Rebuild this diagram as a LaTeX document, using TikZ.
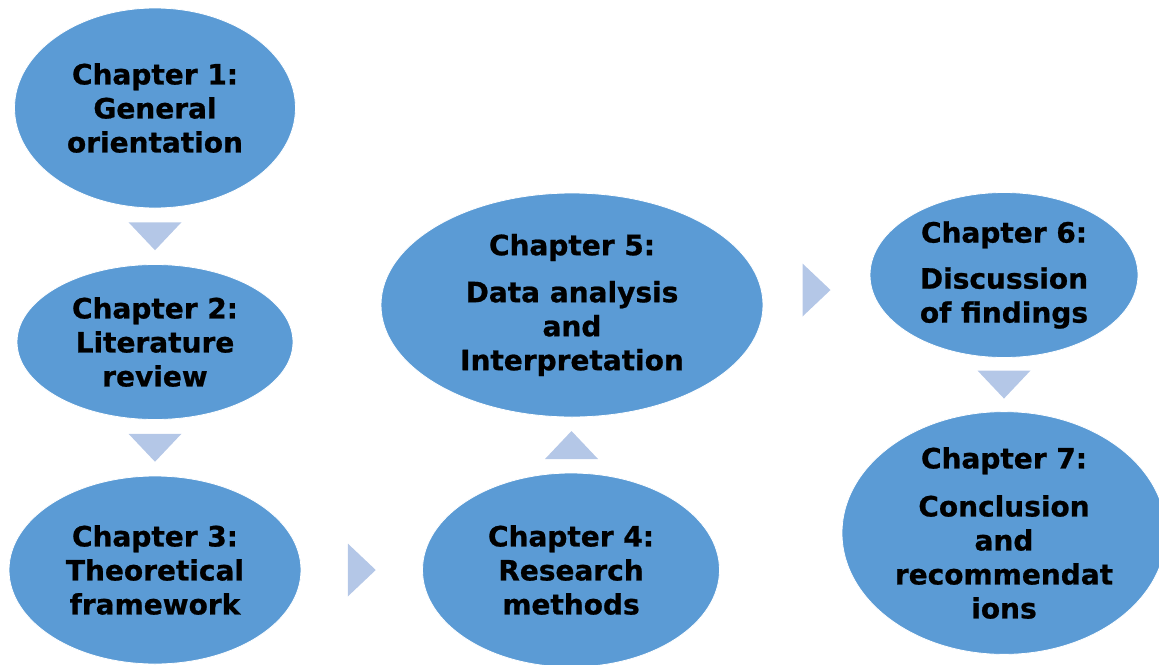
\documentclass[tikz,border=0pt]{standalone}
\usepackage{fontspec}
\setmainfont{DejaVu Sans}[BoldFeatures={FakeBold=0.8}]
\usepackage{tikz}
\usetikzlibrary{shapes.geometric,calc}
\definecolor{chapblue}{HTML}{5B9BD5}
\definecolor{chevblue}{HTML}{B4C7E7}

\begin{document}
\begin{tikzpicture}[x=1pt,y=-1pt]
\tikzstyle{every node}+=[inner sep=0pt]
\tikzstyle{chapter}=[ellipse, fill=chapblue, draw=white, line width=0.8pt, align=center, font=\fontsize{28}{34}\selectfont\bfseries]
\tikzset{chev/.pic={\fill [chevblue] (-26.5,-14) -- (26.5,-14) -- (0,14) -- cycle;}}
\useasboundingbox (0,0) rectangle (1159,664);
\node [chapter, minimum width=281, minimum height=200] (ch1) at (155,108) {Chapter 1:\\General\\orientation};
\node [chapter, minimum width=276, minimum height=155] (ch2) at (155,342) {Chapter 2:\\Literature\\review};
\node [chapter, minimum width=292, minimum height=188] (ch3) at (155,570) {Chapter 3:\\Theoretical\\framework};
\node [chapter, minimum width=297, minimum height=194] (ch4) at (571,570) {Chapter 4:\\Research\\methods};
\node [chapter, minimum width=382, minimum height=224] (ch5) at (572,305) {Chapter 5:\\[13pt]Data analysis\\and\\Interpretation};
\node [chapter, minimum width=268, minimum height=165] (ch6) at (1004,275) {Chapter 6:\\[12pt]Discussion\\of findings};
\node [chapter, minimum width=324, minimum height=234] (ch7) at (1004,533) {Chapter 7:\\[14pt]Conclusion\\and\\recommendat\\ions};
\path (ch1.south) -- (ch2.north) coordinate [midway] (c12);
\path (ch2.south) -- (ch3.north) coordinate [midway] (c23);
\path (ch3.east) -- (ch4.west) coordinate [midway] (c34);
\path (ch4.north) -- (ch5.south) coordinate [midway] (c45);
\path (ch5.east) -- (ch6.west) coordinate [midway] (c56);
\path (ch6.south) -- (ch7.north) coordinate [midway] (c67);
\pic at (c12) {chev};
\pic at (c23) {chev};
\pic [rotate=90] at (c34) {chev};
\pic [rotate=180] at (c45) {chev};
\pic [rotate=90] at (c56) {chev};
\pic at (c67) {chev};
\end{tikzpicture}
\end{document}
